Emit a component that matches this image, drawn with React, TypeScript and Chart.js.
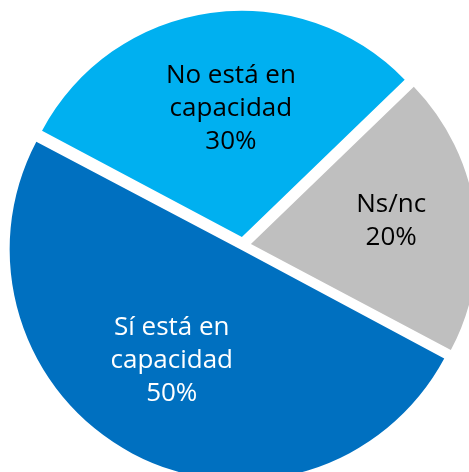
import React, { useEffect, useRef } from "react";
import { Chart, registerables } from "chart.js";

Chart.register(...registerables);

// ---- data ----
const categories = ["Sí está en capacidad", "No está en capacidad", "Ns/nc"];
const labelLines = [["Sí está en", "capacidad"], ["No está en", "capacidad"], ["Ns/nc"]];
const values = [50, 30, 20];

// ---- style ----
const sliceColors = ["#0070C0", "#00B0F0", "#BFBFBF"];
const textColors = ["#FFFFFF", "#000000", "#000000"];
const sliceOffsets = [20, 32, 32];
const labelRadius = [0.595, 0.615, 0.666];
const labelAngleShift = [4, 3, -2];
const FONT_SIZE = 26;
const LINE_H = 33;
const FONT = `${FONT_SIZE}px "Open Sans", "DejaVu Sans", sans-serif`;

const labelPlugin = {
  id: "sliceLabels",
  afterDatasetsDraw(chart: any) {
    const ctx = chart.ctx as CanvasRenderingContext2D;
    const meta = chart.getDatasetMeta(0);
    const total = values.reduce((a, b) => a + b, 0);
    meta.data.forEach((arc: any, i: number) => {
      const { x, y, startAngle, endAngle, outerRadius } = arc.getProps(
        ["x", "y", "startAngle", "endAngle", "outerRadius"],
        true
      );
      const mid = (startAngle + endAngle) / 2 + (labelAngleShift[i] * Math.PI) / 180;
      const r = outerRadius * labelRadius[i];
      const cx = x + Math.cos(mid) * r;
      const cy = y + Math.sin(mid) * r;
      const lines = [...labelLines[i], Math.round((values[i] / total) * 100) + "%"];
      ctx.save();
      ctx.font = FONT;
      ctx.fillStyle = textColors[i];
      ctx.textAlign = "center";
      ctx.textBaseline = "alphabetic";
      const capHalf = FONT_SIZE * 0.357;
      lines.forEach((ln, k) => {
        const my = cy + (k - (lines.length - 1) / 2) * LINE_H;
        ctx.fillText(ln, cx, my + capHalf);
      });
      ctx.restore();
    });
  },
};

export default function App() {
  const ref = useRef<HTMLCanvasElement | null>(null);
  useEffect(() => {
    if (!ref.current) return;
    const chart = new Chart(ref.current, {
      type: "pie",
      data: {
        labels: categories,
        datasets: [
          {
            data: values,
            backgroundColor: sliceColors,
            borderWidth: 0,
            offset: sliceOffsets,
            radius: 226,
            rotation: 118,
          } as any,
        ],
      },
      options: {
        responsive: false,
        maintainAspectRatio: false,
        animation: false,
        layout: { padding: { left: 17, top: 18, right: 0, bottom: 0 } },
        plugins: {
          legend: { display: false },
          tooltip: { enabled: false },
        },
      },
      plugins: [labelPlugin],
    });
    return () => chart.destroy();
  }, []);
  return (
    <div style={{ position: "fixed", left: 0, top: 0, width: 469, height: 472, background: "#fff" }}>
      <canvas ref={ref} width={469} height={472} style={{ display: "block" }} />
    </div>
  );
}
